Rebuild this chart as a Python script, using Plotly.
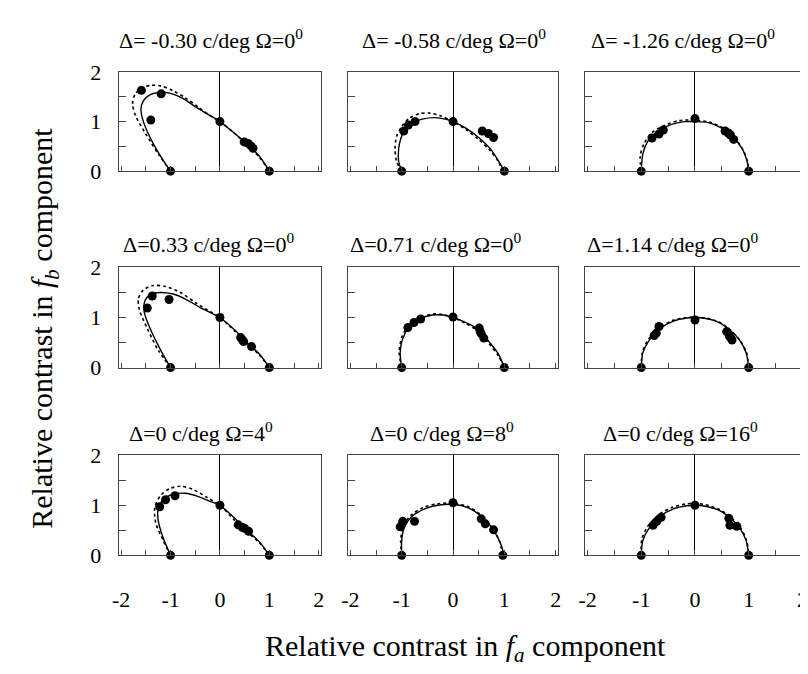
import plotly.graph_objects as go

W, H = 808, 674

titles = [
    "Δ= -0.30 c/deg Ω=0<sup>0</sup>", "Δ= -0.58 c/deg Ω=0<sup>0</sup>", "Δ= -1.26 c/deg Ω=0<sup>0</sup>",
    "Δ=0.33 c/deg Ω=0<sup>0</sup>", "Δ=0.71 c/deg Ω=0<sup>0</sup>", "Δ=1.14 c/deg Ω=0<sup>0</sup>",
    "Δ=0 c/deg Ω=4<sup>0</sup>", "Δ=0 c/deg Ω=8<sup>0</sup>", "Δ=0 c/deg Ω=16<sup>0</sup>",
]

x_ticks = [-2, -1, 0, 1, 2]
x_tick_text = ["-2", "-1", "0", "1", "2"]
y_ticks = [0, 1, 2]
y_tick_text = ["0", "1", "2"]

# measured points (filled circles)
point_x = [
    [-1.0, 1.0, 0.0, -1.59, -1.19, -1.40, 0.49, 0.57, 0.63, 0.67],
    [-1.0, 1.0, 0.0, -0.96, -0.87, -0.74, 0.57, 0.69, 0.79],
    [-1.0, 1.0, 0.0, -0.80, -0.67, -0.59, 0.56, 0.62, 0.66, 0.72],
    [-1.0, 1.0, 0.0, -1.47, -1.37, -1.03, 0.42, 0.46, 0.48, 0.64],
    [-1.0, 1.0, 0.0, -0.88, -0.76, -0.63, 0.51, 0.53, 0.55, 0.60],
    [-1.0, 1.0, 0.0, -0.67, -0.72, -0.76, 0.59, 0.64, 0.67, 0.69],
    [-1.0, 1.0, 0.0, -1.22, -1.10, -0.91, 0.37, 0.45, 0.50, 0.58],
    [-1.0, 0.97, 0.0, -1.03, -0.98, -0.75, 0.55, 0.63, 0.79],
    [-1.0, 1.0, 0.0, -0.78, -0.71, -0.63, 0.63, 0.65, 0.78],
]
point_y = [
    [0.0, 0.0, 1.0, 1.63, 1.56, 1.03, 0.59, 0.56, 0.51, 0.46],
    [0.0, 0.0, 1.0, 0.81, 0.93, 1.00, 0.81, 0.76, 0.68],
    [0.0, 0.0, 1.06, 0.67, 0.75, 0.83, 0.81, 0.77, 0.73, 0.64],
    [0.0, 0.0, 1.0, 1.19, 1.43, 1.36, 0.60, 0.55, 0.52, 0.42],
    [0.0, 0.0, 1.01, 0.80, 0.90, 0.97, 0.79, 0.72, 0.68, 0.59],
    [0.0, 0.0, 0.95, 0.82, 0.69, 0.64, 0.72, 0.63, 0.59, 0.55],
    [0.0, 0.0, 1.0, 0.97, 1.11, 1.19, 0.61, 0.56, 0.54, 0.48],
    [0.0, 0.0, 1.05, 0.57, 0.68, 0.68, 0.73, 0.63, 0.51],
    [0.0, 0.0, 1.0, 0.60, 0.68, 0.76, 0.74, 0.60, 0.58],
]

# solid model curve
solid_x = [
    [-1.0, -1.2, -1.4, -1.55, -1.6, -1.55, -1.4, -1.2, -1.0, -0.75, -0.5, -0.25, 0.0, 0.3, 0.6, 0.8, 1.0],
    [-1.0, -1.06, -1.06, -1.02, -0.95, -0.82, -0.6, -0.35, -0.15, 0.0, 0.25, 0.5, 0.72, 0.88, 1.0],
    [-1.0, -0.97, -0.88, -0.7, -0.45, -0.2, 0.0, 0.25, 0.5, 0.7, 0.88, 0.97, 1.0],
    [-1.0, -1.2, -1.4, -1.53, -1.52, -1.4, -1.2, -0.95, -0.7, -0.4, 0.0, 0.3, 0.6, 0.8, 1.0],
    [-1.0, -1.03, -0.98, -0.85, -0.65, -0.4, -0.2, 0.0, 0.25, 0.5, 0.7, 0.88, 1.0],
    [-1.0, -0.97, -0.85, -0.65, -0.4, -0.15, 0.0, 0.2, 0.45, 0.65, 0.83, 0.95, 1.0],
    [-1.0, -1.15, -1.25, -1.25, -1.13, -0.95, -0.7, -0.45, -0.2, 0.0, 0.3, 0.55, 0.8, 1.0],
    [-1.0, -1.0, -0.95, -0.8, -0.55, -0.3, 0.0, 0.3, 0.55, 0.75, 0.9, 0.97, 0.97],
    [-1.0, -0.97, -0.85, -0.65, -0.4, -0.15, 0.0, 0.2, 0.45, 0.65, 0.83, 0.95, 1.0],
]
solid_y = [
    [0.0, 0.3, 0.65, 1.0, 1.25, 1.42, 1.55, 1.59, 1.57, 1.47, 1.3, 1.15, 1.0, 0.76, 0.5, 0.3, 0.0],
    [0.0, 0.2, 0.45, 0.65, 0.82, 0.96, 1.05, 1.08, 1.05, 1.0, 0.87, 0.68, 0.46, 0.22, 0.0],
    [0.0, 0.35, 0.6, 0.8, 0.94, 1.0, 1.0, 0.98, 0.87, 0.7, 0.45, 0.2, 0.0],
    [0.0, 0.35, 0.75, 1.1, 1.33, 1.47, 1.5, 1.47, 1.37, 1.2, 1.0, 0.75, 0.45, 0.27, 0.0],
    [0.0, 0.3, 0.58, 0.82, 0.97, 1.05, 1.05, 1.0, 0.9, 0.76, 0.52, 0.28, 0.0],
    [0.0, 0.3, 0.55, 0.78, 0.93, 0.99, 1.0, 0.98, 0.9, 0.75, 0.55, 0.3, 0.0],
    [0.0, 0.35, 0.7, 0.95, 1.13, 1.22, 1.24, 1.18, 1.08, 1.0, 0.74, 0.5, 0.27, 0.0],
    [0.0, 0.3, 0.55, 0.78, 0.93, 1.0, 1.02, 0.95, 0.78, 0.56, 0.3, 0.1, 0.0],
    [0.0, 0.3, 0.55, 0.78, 0.93, 0.99, 1.0, 0.98, 0.9, 0.75, 0.55, 0.3, 0.0],
]

# dotted model curve
dotted_x = [
    [-1.0, -1.25, -1.5, -1.7, -1.77, -1.72, -1.58, -1.4, -1.2, -0.95, -0.7, -0.45, -0.2, 0.0, 0.3, 0.6, 0.8, 1.0],
    [-1.0, -1.1, -1.13, -1.1, -1.0, -0.85, -0.65, -0.45, -0.25, 0.0, 0.25, 0.5, 0.72, 0.88, 0.97],
    [-1.0, -1.02, -0.95, -0.8, -0.55, -0.3, 0.0, 0.3, 0.55, 0.75, 0.9, 0.98, 1.0],
    [-1.0, -1.25, -1.48, -1.63, -1.65, -1.55, -1.35, -1.1, -0.8, -0.5, -0.2, 0.0, 0.3, 0.6, 0.8, 1.0],
    [-1.0, -1.05, -1.0, -0.87, -0.65, -0.4, -0.2, 0.0, 0.25, 0.5, 0.7, 0.88, 1.0],
    [-1.0, -0.98, -0.87, -0.67, -0.42, -0.15, 0.0, 0.2, 0.45, 0.66, 0.84, 0.96, 1.0],
    [-1.0, -1.15, -1.3, -1.32, -1.2, -1.0, -0.8, -0.55, -0.25, 0.0, 0.3, 0.55, 0.8, 1.0],
    [-1.0, -1.02, -0.97, -0.82, -0.57, -0.3, 0.0, 0.3, 0.55, 0.75, 0.9, 0.97],
    [-1.0, -0.99, -0.88, -0.68, -0.42, -0.15, 0.0, 0.2, 0.45, 0.67, 0.85, 0.96, 1.0],
]
dotted_y = [
    [0.0, 0.35, 0.75, 1.1, 1.35, 1.55, 1.68, 1.73, 1.72, 1.62, 1.48, 1.3, 1.12, 1.0, 0.76, 0.48, 0.28, 0.0],
    [0.0, 0.2, 0.45, 0.7, 0.9, 1.07, 1.16, 1.17, 1.12, 1.0, 0.84, 0.64, 0.42, 0.2, 0.0],
    [0.0, 0.3, 0.55, 0.78, 0.93, 1.02, 1.03, 0.98, 0.85, 0.65, 0.42, 0.18, 0.0],
    [0.0, 0.35, 0.8, 1.15, 1.38, 1.55, 1.64, 1.62, 1.5, 1.3, 1.12, 1.0, 0.73, 0.44, 0.25, 0.0],
    [0.0, 0.3, 0.6, 0.84, 0.99, 1.07, 1.06, 1.0, 0.88, 0.72, 0.48, 0.24, 0.0],
    [0.0, 0.3, 0.56, 0.79, 0.94, 1.0, 1.01, 0.99, 0.91, 0.75, 0.54, 0.3, 0.0],
    [0.0, 0.3, 0.65, 0.95, 1.2, 1.34, 1.38, 1.32, 1.15, 1.0, 0.7, 0.47, 0.25, 0.0],
    [0.0, 0.3, 0.58, 0.8, 0.96, 1.03, 1.04, 0.97, 0.8, 0.57, 0.3, 0.0],
    [0.0, 0.32, 0.58, 0.81, 0.96, 1.03, 1.04, 1.01, 0.92, 0.76, 0.55, 0.3, 0.0],
]

# layout in pixels
col_px = [(105, 310), (337, 550), (577, 800)]
row_px = [(54, 157), (257, 361), (452, 556)]
title_pos = [
    (198, 20, "center"), (445, 20, "center"), (676, 20, "center"),
    (107, 232, "left"), (337, 232, "left"), (577, 232, "left"),
    (188, 428, "center"), (432, 428, "center"), (674, 428, "center"),
]

def px_x(p):
    return p / W

def px_y(p):
    return 1 - p / H

serif = "Liberation Serif"
fig = go.Figure()
layout = dict(
    width=W, height=H,
    margin=dict(l=0, r=0, t=0, b=0),
    paper_bgcolor="white", plot_bgcolor="white",
    showlegend=False,
    font=dict(family=serif, color="black", size=21),
)
annotations = []

for i in range(9):
    r, c = divmod(i, 3)
    n = i + 1
    xa = "x" if n == 1 else f"x{n}"
    ya = "y" if n == 1 else f"y{n}"
    fig.add_trace(go.Scatter(
        x=dotted_x[i], y=dotted_y[i], mode="lines", xaxis=xa, yaxis=ya,
        line=dict(color="black", width=1.6, dash="3px,3px", shape="spline", smoothing=0.8),
    ))
    fig.add_trace(go.Scatter(
        x=solid_x[i], y=solid_y[i], mode="lines", xaxis=xa, yaxis=ya,
        line=dict(color="black", width=1.4, shape="spline", smoothing=0.8),
    ))
    fig.add_trace(go.Scatter(
        x=point_x[i], y=point_y[i], mode="markers", xaxis=xa, yaxis=ya,
        marker=dict(color="black", size=9), cliponaxis=False,
    ))
    x0, x1 = col_px[c]
    y0, y1 = row_px[r]
    xkey = "xaxis" if n == 1 else f"xaxis{n}"
    ykey = "yaxis" if n == 1 else f"yaxis{n}"
    layout[xkey] = dict(
        domain=[px_x(x0), px_x(x1)], anchor=ya, range=[-2.05, 2.05],
        showgrid=False, zeroline=True, zerolinecolor="black", zerolinewidth=1.2,
        showline=True, linecolor="#444", linewidth=1, mirror=True,
        ticks="inside", ticklen=5, tickwidth=1, tickcolor="#444",
        tickvals=x_ticks, ticktext=x_tick_text,
        minor=dict(ticks="inside", ticklen=5, tickwidth=1, tickcolor="#444",
                   dtick=0.5, tick0=0, showgrid=False),
        showticklabels=(r == 2), ticklabelstandoff=24,
        tickfont=dict(family=serif, size=22, color="black"),
    )
    layout[ykey] = dict(
        domain=[px_y(y1), px_y(y0)], anchor=xa, range=[0, 2],
        showgrid=False, zeroline=False,
        showline=True, linecolor="#444", linewidth=1, mirror=True,
        ticks="inside", ticklen=7, tickwidth=1, tickcolor="#444",
        tickvals=y_ticks, ticktext=y_tick_text,
        minor=dict(ticks="inside", ticklen=7, tickwidth=1, tickcolor="#444",
                   dtick=0.5, tick0=0, showgrid=False),
        showticklabels=(c == 0), ticklabelstandoff=12,
        tickfont=dict(family=serif, size=22, color="black"),
    )
    tx, ty, anc = title_pos[i]
    annotations.append(dict(
        text=titles[i], x=px_x(tx), y=px_y(ty), xref="paper", yref="paper",
        xanchor=anc, yanchor="middle", showarrow=False,
        font=dict(family=serif, size=22, color="black"),
    ))

annotations.append(dict(
    text="Relative contrast in <i>f</i><sub><i>b</i></sub> component",
    x=px_x(30), y=px_y(320), xref="paper", yref="paper", textangle=-90,
    xanchor="center", yanchor="middle", showarrow=False,
    font=dict(family=serif, size=30, color="black"),
))
annotations.append(dict(
    text="Relative contrast in <i>f</i><sub><i>a</i></sub> component",
    x=px_x(456), y=px_y(652), xref="paper", yref="paper",
    xanchor="center", yanchor="middle", showarrow=False,
    font=dict(family=serif, size=30, color="black"),
))
layout["annotations"] = annotations
fig.update_layout(**layout)
fig.write_html("out.html")
